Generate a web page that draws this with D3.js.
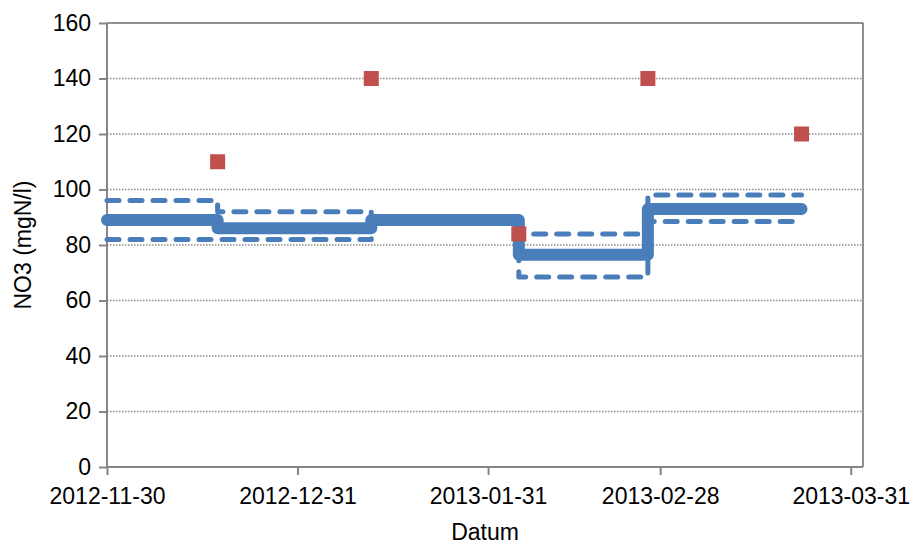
<!DOCTYPE html>
<html>
<head>
<meta charset="utf-8">
<script src="https://cdn.jsdelivr.net/npm/d3@7"></script>
<style>
  body { margin: 0; background: #fff; }
  svg { display: block; font-family: "Liberation Sans", Arial, sans-serif; }
</style>
</head>
<body>
<div id="chart"></div>
<script>
(function() {
    // 数据
    const segDates = ["2012-11-30", "2012-12-18", "2013-01-12", "2013-02-05", "2013-02-26", "2013-03-23"];
    const meanValues = [89, 86, 89, 76.5, 93];
    const upperValues = [96, 92, 89, 84, 98];
    const lowerValues = [82, 82, 89, 68.5, 88.5];

    const obsDates = ["2012-12-18", "2013-01-12", "2013-02-05", "2013-02-26", "2013-03-23"];
    const obsValues = [110, 140, 84, 140, 120];

    const xTickLabels = ["2012-11-30", "2012-12-31", "2013-01-31", "2013-02-28", "2013-03-31"];
    const yTicks = [0, 20, 40, 60, 80, 100, 120, 140, 160];

    const width = 916, height = 546;
    const parse = d3.utcParse("%Y-%m-%d");

    const svg = d3.select("#chart").append("svg")
        .attr("width", width)
        .attr("height", height);

    const x = d3.scaleUtc()
        .domain([parse("2012-11-30"), parse("2013-04-02")])
        .range([107, 863]);
    const y = d3.scaleLinear().domain([0, 160]).range([467, 23]);

    // 网格线
    svg.append("g")
        .selectAll("line")
        .data(yTicks.filter(d => d > 0 && d < 160))
        .enter().append("line")
        .attr("x1", x.range()[0]).attr("x2", x.range()[1])
        .attr("y1", d => y(d)).attr("y2", d => y(d))
        .attr("stroke", "#8c8c8c")
        .attr("stroke-width", 1.5)
        .attr("stroke-dasharray", "1.5 1.5");

    // 边框 (上, 右)
    svg.append("path")
        .attr("d", `M${x.range()[0]},${y(160)}H${x.range()[1]}V${y(0)}`)
        .attr("fill", "none")
        .attr("stroke", "#222")
        .attr("stroke-width", 1);

    // y 轴
    const yAxis = svg.append("g")
        .attr("transform", `translate(${x.range()[0]},0)`)
        .call(d3.axisLeft(y).tickValues(yTicks).tickSize(8).tickPadding(8));
    // x 轴
    const xAxis = svg.append("g")
        .attr("transform", `translate(0,${y(0)})`)
        .call(d3.axisBottom(x).tickValues(xTickLabels.map(parse))
            .tickFormat(d3.utcFormat("%Y-%m-%d")).tickSize(8).tickPadding(13));

    [yAxis, xAxis].forEach(g => {
        g.select(".domain").attr("stroke", "#868686").attr("stroke-width", 2);
        g.selectAll(".tick line").attr("stroke", "#868686").attr("stroke-width", 2);
        g.selectAll(".tick text")
            .attr("fill", "#000")
            .style("font-size", "23px")
            .style("font-family", "'Liberation Sans', Arial, sans-serif");
    });
    yAxis.select(".domain").attr("d", `M0,${y(160)}V${y(0)}`);
    xAxis.select(".domain").attr("d", `M${x.range()[0]},0H${x.range()[1]}`);

    // 阶梯线
    function stepPoints(values) {
        const pts = [];
        values.forEach((v, i) => {
            pts.push([parse(segDates[i]), v]);
            pts.push([parse(segDates[i + 1]), v]);
        });
        return pts;
    }
    const line = d3.line()
        .x(d => x(d[0]))
        .y(d => y(d[1]));

    const blue = "#4a7ebb";
    [upperValues, lowerValues].forEach(vals => {
        svg.append("path")
            .attr("d", line(stepPoints(vals)))
            .attr("fill", "none")
            .attr("stroke", blue)
            .attr("stroke-width", 5)
            .attr("stroke-linecap", "round")
            .attr("stroke-linejoin", "round")
            .attr("stroke-dasharray", "12 11");
    });

    svg.append("path")
        .attr("d", line(stepPoints(meanValues)))
        .attr("fill", "none")
        .attr("stroke", blue)
        .attr("stroke-width", 12)
        .attr("stroke-linecap", "round")
        .attr("stroke-linejoin", "round");

    // 观测点
    const s = 15;
    svg.append("g")
        .selectAll("rect")
        .data(obsDates.map((d, i) => ({ date: parse(d), value: obsValues[i] })))
        .enter().append("rect")
        .attr("x", d => x(d.date) - s / 2)
        .attr("y", d => y(d.value) - s / 2)
        .attr("width", s)
        .attr("height", s)
        .attr("fill", "#c0504d");

    // 轴标题
    svg.append("text")
        .attr("x", 485)
        .attr("y", 540)
        .attr("text-anchor", "middle")
        .style("font-size", "23px")
        .text("Datum");

    svg.append("text")
        .attr("transform", "translate(31,245) rotate(-90)")
        .attr("text-anchor", "middle")
        .style("font-size", "23px")
        .text("NO3 (mgN/l)");
})();
</script>
</body>
</html>
